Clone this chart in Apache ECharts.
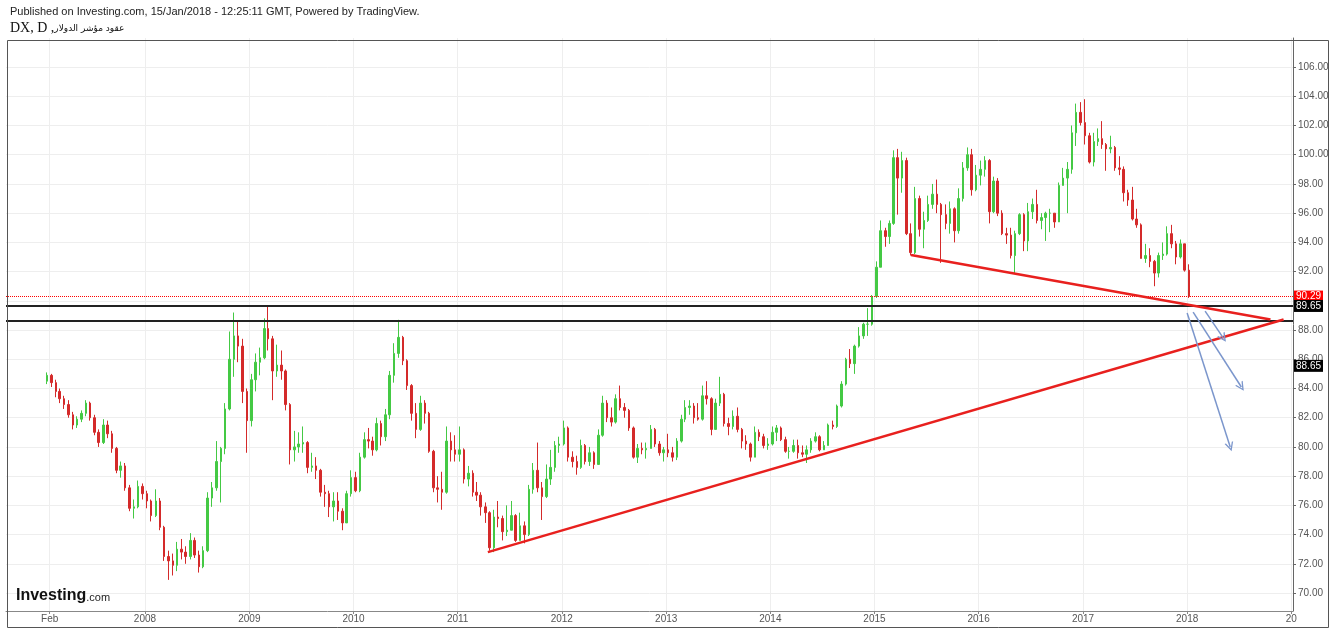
<!DOCTYPE html>
<html><head><meta charset="utf-8">
<script src="https://cdn.jsdelivr.net/npm/echarts@6.0.0/dist/echarts.min.js"></script>
<style>html,body{margin:0;padding:0;background:#fff}#c{width:1332px;height:628px}</style>
</head><body><div id="c"></div>
<script>
// Half-month OHLC candles [open, close, low, high]; index i -> month floor(i/2), first/second half
const y2007 = [null,[84.5,84.9,84.3,85.1],[84.9,84.4,84.1,85.0],[84.4,83.8,83.4,84.6],[83.8,83.3,83.0,84.0],[83.3,82.9,82.6,83.5],[82.9,82.2,82.0,83.2],[82.2,81.5,81.2,82.4],[81.5,81.9,81.3,82.1],[81.9,82.3,81.7,82.5],[82.3,83.0,82.1,83.2],[83.0,82.0,81.8,83.1],[82.0,81.0,80.8,82.2],[81.0,80.3,80.0,81.2],[80.3,81.5,80.2,81.9],[81.5,80.9,80.6,81.8],[80.9,79.9,79.6,81.1],[79.9,78.4,78.2,80.0],[78.4,78.7,77.9,79.0],[78.7,77.2,77.0,78.9],[77.2,75.8,75.6,77.4],[75.8,75.9,75.1,76.4],[75.9,77.3,75.8,77.7],[77.3,76.8,76.4,77.5]];
const y2008 = [[76.8,76.3,75.8,77.0],[76.3,75.3,74.9,76.4],[75.3,76.3,75.2,77.1],[76.3,74.5,74.3,76.5],[74.5,72.5,72.2,74.6],[72.5,72.2,70.9,72.9],[72.2,71.9,71.2,72.7],[71.9,73.0,71.5,73.5],[73.0,72.8,72.3,73.7],[72.8,72.5,72.0,73.2],[72.5,73.6,72.3,74.1],[73.6,72.6,72.4,73.8],[72.6,71.8,71.4,72.9],[71.8,72.9,71.7,73.2],[72.9,76.5,72.8,76.9],[76.5,77.2,75.9,77.6],[77.2,79.0,77.0,80.4],[79.0,79.9,76.2,80.0],[79.9,82.6,79.5,83.0],[82.6,86.0,82.5,87.9],[86.0,87.6,84.8,89.2],[87.6,86.9,85.8,88.6],[86.9,83.8,83.0,87.4],[83.8,81.8,79.6,84.0]];
const y2009 = [[81.8,84.6,81.4,85.0],[84.6,85.8,83.8,86.4],[85.8,86.1,84.9,86.8],[86.1,88.1,86.0,88.8],[88.1,87.4,86.6,89.6],[87.4,85.2,83.2,87.6],[85.2,85.6,84.8,87.0],[85.6,85.2,84.6,86.6],[85.2,82.9,82.5,85.3],[82.9,79.8,78.8,83.0],[79.8,80.0,79.0,81.1],[80.0,80.2,79.6,81.0],[80.2,80.3,79.6,81.4],[80.3,78.6,78.2,80.4],[78.6,78.7,78.3,79.6],[78.7,78.4,77.8,79.3],[78.4,76.9,76.6,78.5],[76.9,76.8,75.9,77.4],[76.8,75.9,75.2,77.0],[75.9,76.3,74.9,76.9],[76.3,75.6,75.0,76.9],[75.6,74.8,74.3,75.8],[74.8,76.8,74.8,77.0],[76.8,77.9,76.6,78.4]];
const y2010 = [[77.9,77.0,76.9,78.3],[77.0,79.3,76.9,79.6],[79.3,80.5,79.2,81.0],[80.5,80.4,79.9,81.3],[80.4,79.8,79.4,80.7],[79.8,81.6,79.7,82.0],[81.6,80.7,80.1,81.8],[80.7,82.2,80.4,82.6],[82.2,84.9,81.9,85.2],[84.9,86.4,84.4,87.1],[86.4,87.5,86.1,88.7],[87.5,85.9,85.6,87.6],[85.9,84.2,83.9,86.0],[84.2,82.3,81.8,84.3],[82.3,81.2,80.6,83.0],[81.2,83.0,81.1,83.5],[83.0,82.3,81.6,83.2],[82.3,79.7,79.6,82.4],[79.7,77.2,76.9,79.8],[77.2,77.1,76.2,78.0],[77.1,76.9,75.7,78.3],[76.9,80.4,76.8,81.4],[80.4,79.8,79.0,81.0],[79.8,79.5,79.0,80.8]];
const y2011 = [[79.5,79.8,79.0,81.4],[79.8,77.8,77.5,79.9],[77.8,78.2,77.3,78.7],[78.2,76.9,76.6,78.4],[76.9,76.7,76.3,77.6],[76.7,75.9,75.3,76.9],[75.9,75.5,74.8,76.2],[75.5,73.1,72.9,75.6],[73.1,75.2,72.8,75.7],[75.2,75.1,74.5,76.3],[75.1,74.2,73.6,75.3],[74.2,74.3,73.9,76.0],[74.3,75.3,74.3,76.3],[75.3,73.6,73.5,75.4],[73.6,74.6,73.6,75.5],[74.6,74.0,73.4,74.9],[74.0,77.1,73.9,77.4],[77.1,78.4,76.8,78.9],[78.4,77.2,76.9,80.3],[77.2,76.6,75.0,77.6],[76.6,77.8,76.5,78.8],[77.8,78.6,77.4,79.8],[78.6,80.1,78.3,80.4],[80.1,80.2,79.6,80.7]];
const y2012 = [[80.2,81.3,80.1,81.8],[81.3,79.3,79.0,81.4],[79.3,79.0,78.6,79.7],[79.0,78.6,78.1,79.4],[78.6,80.1,78.5,80.5],[80.1,79.0,78.8,80.2],[79.0,79.6,78.7,80.0],[79.6,78.8,78.5,79.7],[78.8,80.8,78.8,81.2],[80.8,83.0,80.7,83.5],[83.0,82.0,81.7,83.2],[82.0,81.7,81.4,82.7],[81.7,83.3,81.6,83.6],[83.3,82.7,82.5,84.2],[82.7,82.5,82.0,83.0],[82.5,81.3,81.1,82.6],[81.3,79.3,79.2,81.4],[79.3,79.9,78.9,80.2],[79.9,79.8,79.5,80.3],[79.8,79.9,79.2,80.3],[79.9,81.2,79.9,81.5],[81.2,80.2,80.0,81.3],[80.2,79.6,79.4,80.4],[79.6,79.8,79.0,80.0]];
const y2013 = [[79.8,79.6,79.3,80.9],[79.6,79.3,79.0,80.0],[79.3,80.4,79.1,80.6],[80.4,81.9,80.3,82.2],[81.9,82.7,81.7,83.2],[82.7,82.8,82.2,83.2],[82.8,82.0,81.6,83.0],[82.0,81.9,81.8,83.0],[81.9,83.5,81.8,84.2],[83.5,83.3,82.9,84.5],[83.3,81.2,80.8,83.4],[81.2,83.0,81.2,83.3],[83.0,83.6,82.8,84.8],[83.6,81.6,81.4,83.7],[81.6,81.4,80.8,82.0],[81.4,82.1,81.2,82.5],[82.1,81.2,81.0,82.7],[81.2,80.4,79.9,81.3],[80.4,80.2,79.8,80.8],[80.2,79.3,79.0,80.3],[79.3,81.0,79.3,81.4],[81.0,80.7,80.4,81.2],[80.7,80.1,79.9,80.9],[80.1,80.2,79.8,80.6]];
const y2014 = [[80.2,81.0,80.1,81.4],[81.0,81.3,80.4,81.5],[81.3,80.5,80.4,81.4],[80.5,79.7,79.6,80.7],[79.7,79.7,79.2,80.0],[79.7,80.1,79.6,80.5],[80.1,79.6,79.2,80.5],[79.6,79.5,79.3,80.1],[79.5,79.8,78.9,80.1],[79.8,80.4,79.6,80.6],[80.4,80.7,80.3,81.0],[80.7,79.8,79.7,80.8],[79.8,80.1,79.8,80.4],[80.1,81.5,80.1,81.6],[81.5,81.4,81.2,81.8],[81.4,82.8,81.3,82.9],[82.8,84.3,82.7,84.5],[84.3,86.0,84.2,86.1],[86.0,85.7,85.4,86.7],[85.7,86.9,85.0,87.0],[86.9,87.6,86.8,88.2],[87.6,88.4,87.4,88.5],[88.4,88.4,87.6,89.5],[88.4,90.3,88.3,90.4]];
const y2015 = [[90.3,92.3,90.2,92.7],[92.3,94.8,92.3,95.5],[94.8,94.4,93.7,95.0],[94.4,95.3,93.9,95.5],[95.3,99.8,95.2,100.3],[99.8,98.4,95.9,100.4],[98.4,99.6,97.4,100.2],[99.6,94.6,94.5,99.8],[94.6,93.3,93.1,95.3],[93.3,97.0,93.2,97.8],[97.0,94.9,94.4,97.2],[94.9,95.5,93.6,96.1],[95.5,96.6,95.4,97.2],[96.6,97.3,96.3,98.0],[97.3,96.6,96.0,98.3],[96.6,95.9,92.6,96.7],[95.9,95.3,94.9,96.6],[95.3,96.3,94.6,96.8],[96.3,94.8,94.0,96.4],[94.8,97.0,94.6,97.7],[97.0,99.1,96.8,99.5],[99.1,100.0,98.9,100.5],[100.0,97.6,97.2,100.4],[97.6,98.6,97.5,99.3]];
const y2016 = [[98.6,99.0,97.9,99.6],[99.0,99.6,98.5,99.9],[99.6,96.1,95.3,99.7],[96.1,98.2,96.0,98.5],[98.2,96.0,95.8,98.4],[96.0,94.6,94.5,96.2],[94.6,94.5,93.9,95.0],[94.5,93.1,92.9,95.0],[93.1,94.6,91.9,94.8],[94.6,95.9,94.5,96.0],[95.9,94.1,93.4,96.0],[94.1,96.1,93.4,96.7],[96.1,96.6,95.6,97.0],[96.6,95.5,95.3,97.6],[95.5,95.7,94.9,96.0],[95.7,96.0,94.1,96.1],[96.0,96.0,94.7,96.3],[96.0,95.4,95.0,96.0],[95.4,97.9,95.4,98.1],[97.9,98.4,97.9,99.1],[98.4,99.0,96.0,99.5],[99.0,101.5,98.7,102.0],[101.5,102.9,100.6,103.5],[102.9,102.2,102.0,103.6]];
const y2017 = [[102.2,101.3,100.7,103.8],[101.3,99.5,99.4,101.5],[99.5,100.9,99.2,101.5],[100.9,101.1,100.6,101.8],[101.1,100.7,100.4,102.3],[100.7,100.4,98.9,100.8],[100.4,100.5,100.1,101.3],[100.5,99.1,98.9,100.6],[99.1,99.0,98.6,99.9],[99.0,97.4,96.8,99.2],[97.4,96.9,96.5,97.6],[96.9,95.6,95.5,97.8],[95.6,95.2,95.0,96.3],[95.2,92.9,92.9,95.3],[92.9,93.1,92.6,93.9],[93.1,92.7,92.3,93.6],[92.7,91.9,91.0,92.8],[91.9,93.1,91.6,93.3],[93.1,93.2,92.8,94.0],[93.2,94.6,93.1,95.1],[94.6,93.9,93.6,95.2],[93.9,93.0,92.5,94.1],[93.0,93.9,92.9,94.2],[93.9,92.1,92.0,93.9]];
const y2018 = [[92.1,90.3,90.2,92.5]];
const years = {2007:y2007,2008:y2008,2009:y2009,2010:y2010,2011:y2011,2012:y2012,2013:y2013,2014:y2014,2015:y2015,2016:y2016,2017:y2017,2018:y2018};

// axis labels
const xTickDates = ['2007-02-01','2008-01-01','2009-01-01','2010-01-01','2011-01-01','2012-01-01','2013-01-01','2014-01-01','2015-01-01','2016-01-01','2017-01-01','2018-01-01','2019-01-01'];
const yTicks = [70,72,74,76,78,80,82,84,86,88,90,92,94,96,98,100,102,104,106];

// price levels and drawings
const lastPrice = 90.29;
const level1 = 89.65;
const level2 = 88.65;
const level2LabelAt = 85.55;
const risingLine = [['2011-04-17',72.8],['2018-12-05',88.72]];
const fallingLine = [['2015-05-09',93.13],['2018-10-20',88.72]];
const arrows = [
  [['2018-01-01',89.16],['2018-06-01',80.0]],
  [['2018-01-22',89.23],['2018-07-10',84.1]],
  [['2018-03-05',89.3],['2018-05-08',87.45]]
];

const T = function (s) { return Date.parse(s + 'T00:00:00Z'); };
const P = function (p) { return [T(p[0]), p[1]]; };

const candles = [];
Object.keys(years).forEach(function (y) {
  years[y].forEach(function (c, i) {
    if (!c) return;
    const m = Math.floor(i / 2) + 1;
    const d = (i % 2) ? 23 : 8;
    const ds = y + '-' + (m < 10 ? '0' + m : m) + '-' + (d < 10 ? '0' + d : d);
    candles.push([T(ds), c[0], c[1], c[2], c[3]]);
  });
});

const chart = echarts.init(document.getElementById('c'));
const boxLabel = function (txt, bg) {
  return {show: true, position: 'end', formatter: txt, color: '#fff', backgroundColor: bg,
    padding: [1, 2, 0, 2], fontSize: 10, lineHeight: 11, fontFamily: 'Liberation Sans', distance: 1};
};
const chevron = 'path://M0,10 L5,0 L10,10 L8.4,10 L5,3.2 L1.6,10 Z';
const redStyle = {color: '#e8201e', width: 2.5, type: 'solid'};
const mlData = [
  {yAxis: level2LabelAt, lineStyle: {color: 'rgba(0,0,0,0)', width: 0}, label: boxLabel(level2.toFixed(2), '#000')},
  {yAxis: lastPrice, lineStyle: {color: '#ff0000', type: 'dotted', width: 1}, label: boxLabel(lastPrice.toFixed(2), '#ff0000')},
  {yAxis: level1, lineStyle: {color: '#222', type: 'solid', width: 2}, label: boxLabel(level1.toFixed(2), '#000')},
  {yAxis: level2, lineStyle: {color: '#222', type: 'solid', width: 2}, label: {show: false}},
  [{coord: P(risingLine[0]), lineStyle: redStyle, label: {show: false}}, {coord: P(risingLine[1])}],
  [{coord: P(fallingLine[0]), lineStyle: redStyle, label: {show: false}}, {coord: P(fallingLine[1])}]
];
arrows.forEach(function (a) {
  mlData.push([
    {coord: P(a[0]), lineStyle: {color: '#7b96cc', width: 1.5, type: 'solid'}, label: {show: false}},
    {coord: P(a[1]), symbol: chevron, symbolSize: [9, 9]}
  ]);
});

const xTicks = xTickDates.map(T);
const gridLinesX = xTicks.map(function (v) { return {xAxis: v}; });
chart.setOption({
  animation: false,
  backgroundColor: '#fff',
  grid: {left: 6, right: 39, top: 38, bottom: 17, containLabel: false},
  xAxis: {
    type: 'value', min: T('2006-09-01'), max: T('2019-01-07'), scale: true,
    axisLine: {show: true, lineStyle: {color: '#888'}},
    axisTick: {show: true, length: 3, lineStyle: {color: '#888'}, customValues: xTicks},
    axisLabel: {
      customValues: xTicks, color: '#555', fontSize: 10, fontFamily: 'Liberation Sans', margin: 3,
      formatter: function (v) {
        const dt = new Date(v);
        if (dt.getUTCMonth() === 1) return 'Feb';
        const y = dt.getUTCFullYear();
        return y === 2019 ? '20' : String(y);
      }
    },
    splitLine: {show: false}
  },
  yAxis: {
    type: 'value', position: 'right', min: 68.77, max: 107.99, scale: true,
    axisLine: {show: true, lineStyle: {color: '#666'}},
    axisTick: {show: true, length: 3, lineStyle: {color: '#666'}, customValues: yTicks},
    axisLabel: {customValues: yTicks, color: '#555', fontSize: 10, fontFamily: 'Liberation Sans', margin: 5,
      formatter: function (v) { return v.toFixed(2); }},
    splitLine: {show: true, lineStyle: {color: '#eeeeee'}}
  },
  series: [{
    type: 'line', data: [], z: 0, silent: true,
    markLine: {silent: true, symbol: ['none', 'none'], label: {show: false},
      lineStyle: {color: '#eeeeee', width: 1, type: 'solid'}, data: gridLinesX}
  }, {
    type: 'candlestick',
    data: candles,
    encode: {x: 0, y: [1, 2, 3, 4]},
    barMaxWidth: 2,
    itemStyle: {color: '#44c944', color0: '#d42a2a', borderColor: '#44c944', borderColor0: '#d42a2a', borderWidth: 1},
    markLine: {silent: true, symbol: ['none', 'none'], animation: false, data: mlData}
  }],
  graphic: [
    {type: 'rect', left: 5, top: 38, z: 100, silent: true,
     shape: {width: 1321, height: 587}, style: {fill: 'none', stroke: '#555', lineWidth: 1}},
    {type: 'text', left: 10, top: 6, style: {text: 'Published on Investing.com, 15/Jan/2018 - 12:25:11 GMT, Powered by TradingView.',
      fill: '#222', font: '11px "Liberation Sans", Arial, sans-serif'}},
    {type: 'text', left: 10, top: 21, style: {
      text: '{a|DX, D ,}{b|عقود مؤشر الدولار}',
      rich: {a: {fontSize: 14, fontFamily: 'Liberation Serif', fill: '#111'},
             b: {fontSize: 9, fontFamily: 'DejaVu Sans', fill: '#111', padding: [2, 0, 0, 0]}}}},
    {type: 'text', left: 16, top: 588, z: 50, style: {
      text: '{a|Investing}{b|.com}',
      rich: {a: {fontSize: 16, fontWeight: 'bold', fill: '#111', fontFamily: 'Liberation Sans'},
             b: {fontSize: 11, fill: '#222', fontFamily: 'Liberation Sans', padding: [3, 0, 0, 0]}}}}
  ]
});
</script></body></html>
